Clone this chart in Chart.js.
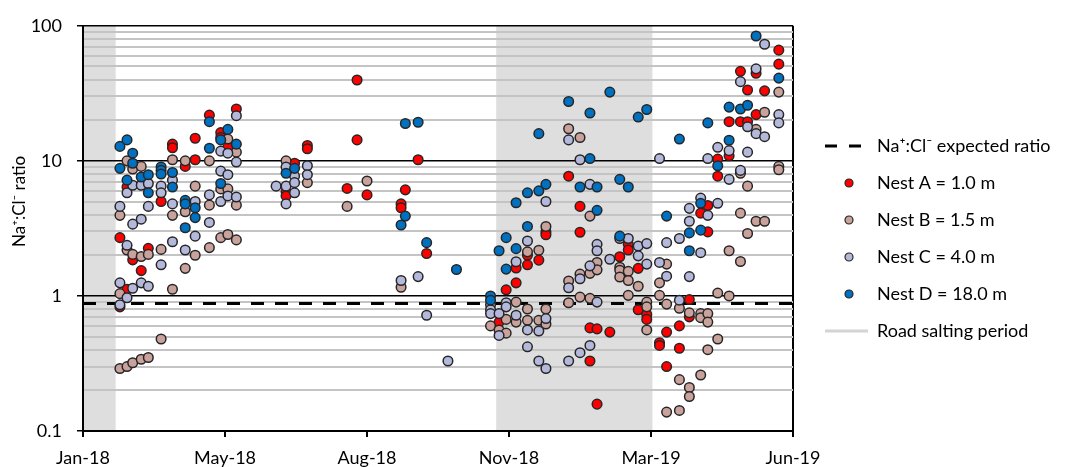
<!DOCTYPE html>
<html>
<head>
<meta charset="utf-8">
<script src="https://cdn.jsdelivr.net/npm/chart.js@4.4.1/dist/chart.umd.min.js"></script>
<style>
  html, body { margin: 0; padding: 0; background: #fff; }
  #wrap { width: 1069px; height: 467px; }
</style>
</head>
<body>
<div id="wrap"><canvas id="ratioChart"></canvas></div>
<script>
// axis setup
const X_TICK_DATES = ['2018-01-29', '2018-05-09', '2018-08-17', '2018-11-25', '2019-03-05', '2019-06-13'];
const X_TICK_LABELS = ['Jan-18', 'May-18', 'Aug-18', 'Nov-18', 'Mar-19', 'Jun-19'];
const Y_LABELED = [0.1, 1, 10, 100];
const Y_GRID = [0.1, 0.2, 0.3, 0.4, 0.5, 0.6, 0.7, 0.8, 0.9,
                1, 2, 3, 4, 5, 6, 7, 8, 9,
                10, 20, 30, 40, 50, 60, 70, 80, 90, 100];
const Y_TITLE = 'Na\u207A:Cl\u207B ratio';

const EXPECTED_RATIO = 0.88;
const SALTING_PERIODS = [['2017-11-15', '2018-02-21'], ['2018-11-16', '2019-03-06']];

// [sample date, Na:Cl ratio]
const nestA = [
  ['2018-02-24', 2.7], ['2018-02-24', 0.83], ['2018-03-01', 6.4], ['2018-03-01', 1.12],
  ['2018-03-05', 1.85], ['2018-03-11', 1.54], ['2018-03-16', 2.25], ['2018-03-25', 5.0],
  ['2018-04-02', 13.3], ['2018-04-02', 12.5], ['2018-04-11', 9.1], ['2018-04-18', 14.7],
  ['2018-04-18', 10.2], ['2018-04-28', 21.8], ['2018-05-06', 16.2], ['2018-05-06', 14.9],
  ['2018-05-11', 12.6], ['2018-05-17', 24.2], ['2018-06-21', 5.9], ['2018-06-21', 5.5],
  ['2018-06-27', 9.6], ['2018-07-06', 13.0], ['2018-07-06', 12.3], ['2018-08-03', 6.25],
  ['2018-08-10', 39.7], ['2018-08-10', 14.3], ['2018-08-17', 5.6], ['2018-09-10', 4.8],
  ['2018-09-10', 4.5], ['2018-09-13', 6.1], ['2018-09-22', 10.2], ['2018-09-28', 2.06],
  ['2018-11-18', 0.64], ['2018-11-23', 1.11], ['2018-11-30', 1.61], ['2018-11-30', 1.25],
  ['2018-12-08', 2.0], ['2018-12-08', 1.7], ['2018-12-16', 1.84], ['2018-12-21', 2.98],
  ['2018-12-21', 2.84], ['2019-01-06', 7.7], ['2019-01-14', 4.6], ['2019-01-14', 2.96],
  ['2019-01-21', 0.58], ['2019-01-21', 0.33], ['2019-01-26', 0.57], ['2019-01-26', 0.158],
  ['2019-02-04', 0.54], ['2019-02-11', 1.95], ['2019-02-17', 2.41], ['2019-02-17', 2.19],
  ['2019-02-24', 1.6], ['2019-02-24', 0.79], ['2019-03-02', 0.73], ['2019-03-02', 0.67],
  ['2019-03-11', 0.45], ['2019-03-11', 0.43], ['2019-03-16', 0.54], ['2019-03-16', 0.3],
  ['2019-03-25', 0.6], ['2019-03-25', 0.41], ['2019-04-01', 0.94], ['2019-04-01', 0.7],
  ['2019-04-09', 4.1], ['2019-04-14', 4.67], ['2019-04-14', 2.98], ['2019-04-21', 10.3],
  ['2019-04-21', 7.7], ['2019-04-29', 19.5], ['2019-04-29', 10.9], ['2019-05-07', 46],
  ['2019-05-07', 19.5], ['2019-05-12', 33.5], ['2019-05-12', 19.5], ['2019-05-18', 44.5],
  ['2019-05-18', 22], ['2019-05-24', 33], ['2019-06-03', 66], ['2019-06-03', 52]
];
const nestB = [
  ['2018-02-24', 3.95], ['2018-02-24', 1.04], ['2018-02-24', 0.29], ['2018-03-01', 10.0],
  ['2018-03-01', 2.19], ['2018-03-01', 0.3], ['2018-03-05', 8.7], ['2018-03-05', 2.03],
  ['2018-03-05', 0.32], ['2018-03-11', 9.1], ['2018-03-11', 1.96], ['2018-03-11', 0.34],
  ['2018-03-16', 2.03], ['2018-03-16', 0.35], ['2018-03-25', 2.21], ['2018-03-25', 0.48],
  ['2018-04-02', 10.2], ['2018-04-02', 3.95], ['2018-04-02', 1.12], ['2018-04-11', 10.0],
  ['2018-04-11', 4.2], ['2018-04-11', 1.6], ['2018-04-18', 6.5], ['2018-04-18', 2.0],
  ['2018-04-28', 10.0], ['2018-04-28', 4.7], ['2018-04-28', 2.28], ['2018-05-06', 6.2],
  ['2018-05-06', 2.7], ['2018-05-11', 14.5], ['2018-05-11', 6.2], ['2018-05-11', 2.85],
  ['2018-05-17', 11.6], ['2018-05-17', 4.7], ['2018-05-17', 2.6], ['2018-06-21', 10.0],
  ['2018-07-06', 6.9], ['2018-08-03', 4.6], ['2018-08-17', 7.1], ['2018-09-10', 1.16],
  ['2018-11-12', 0.6], ['2018-11-18', 0.56], ['2018-11-23', 0.67], ['2018-11-23', 0.53],
  ['2018-11-30', 0.9], ['2018-11-30', 0.64], ['2018-12-08', 2.12], ['2018-12-08', 0.8],
  ['2018-12-08', 0.66], ['2018-12-16', 2.18], ['2018-12-16', 0.66], ['2018-12-21', 3.27],
  ['2018-12-21', 0.8], ['2018-12-21', 0.62], ['2019-01-06', 17.3], ['2019-01-06', 1.29],
  ['2019-01-06', 0.89], ['2019-01-14', 14.9], ['2019-01-14', 1.45], ['2019-01-14', 0.98],
  ['2019-01-21', 3.9], ['2019-01-21', 1.47], ['2019-01-21', 0.96], ['2019-01-26', 1.77],
  ['2019-01-26', 1.56], ['2019-02-11', 1.63], ['2019-02-11', 1.55], ['2019-02-11', 1.38],
  ['2019-02-17', 1.52], ['2019-02-17', 1.3], ['2019-02-17', 1.01], ['2019-02-24', 1.18],
  ['2019-03-02', 0.9], ['2019-03-02', 0.83], ['2019-03-02', 0.56], ['2019-03-11', 1.25],
  ['2019-03-11', 1.01], ['2019-03-16', 1.72], ['2019-03-16', 0.87], ['2019-03-16', 0.138],
  ['2019-03-25', 0.81], ['2019-03-25', 0.24], ['2019-03-25', 0.142], ['2019-04-01', 0.75],
  ['2019-04-01', 0.21], ['2019-04-01', 0.18], ['2019-04-09', 0.74], ['2019-04-09', 0.69],
  ['2019-04-09', 0.26], ['2019-04-14', 0.74], ['2019-04-14', 0.64], ['2019-04-14', 0.4],
  ['2019-04-21', 1.05], ['2019-04-21', 0.48], ['2019-04-29', 2.16], ['2019-04-29', 1.0],
  ['2019-05-07', 8.1], ['2019-05-07', 4.1], ['2019-05-07', 1.8], ['2019-05-12', 6.5],
  ['2019-05-12', 2.9], ['2019-05-18', 17.1], ['2019-05-18', 3.57], ['2019-05-24', 22.9],
  ['2019-05-24', 3.57], ['2019-06-03', 32.3], ['2019-06-03', 9.1], ['2019-06-03', 8.6]
];
const nestC = [
  ['2018-02-24', 4.6], ['2018-02-24', 1.25], ['2018-02-24', 0.86], ['2018-03-01', 5.8],
  ['2018-03-01', 2.37], ['2018-03-01', 0.97], ['2018-03-05', 6.6], ['2018-03-05', 3.4],
  ['2018-03-05', 1.14], ['2018-03-11', 6.6], ['2018-03-11', 3.7], ['2018-03-11', 1.25],
  ['2018-03-16', 6.8], ['2018-03-16', 4.6], ['2018-03-16', 1.18], ['2018-03-25', 6.5],
  ['2018-03-25', 5.8], ['2018-03-25', 1.7], ['2018-04-02', 7.2], ['2018-04-02', 4.8],
  ['2018-04-02', 2.52], ['2018-04-11', 2.19], ['2018-04-18', 5.0], ['2018-04-18', 2.77],
  ['2018-04-28', 5.6], ['2018-04-28', 3.5], ['2018-05-06', 11.8], ['2018-05-06', 8.4],
  ['2018-05-06', 5.0], ['2018-05-11', 11.4], ['2018-05-11', 7.9], ['2018-05-11', 5.5],
  ['2018-05-17', 21.6], ['2018-05-17', 9.8], ['2018-05-17', 5.4], ['2018-06-14', 6.5],
  ['2018-06-21', 9.0], ['2018-06-21', 6.5], ['2018-06-21', 4.8], ['2018-06-27', 7.7],
  ['2018-06-27', 6.9], ['2018-06-27', 5.8], ['2018-07-06', 9.2], ['2018-07-06', 7.9],
  ['2018-09-10', 1.3], ['2018-09-22', 1.39], ['2018-09-28', 0.72], ['2018-10-13', 0.33],
  ['2018-11-12', 0.86], ['2018-11-12', 0.79], ['2018-11-12', 0.74], ['2018-11-18', 0.74],
  ['2018-11-18', 0.51], ['2018-11-23', 0.89], ['2018-11-23', 0.83], ['2018-11-30', 1.79],
  ['2018-11-30', 0.72], ['2018-12-08', 2.55], ['2018-12-08', 0.56], ['2018-12-08', 0.42],
  ['2018-12-16', 0.55], ['2018-12-16', 0.33], ['2018-12-21', 5.0], ['2018-12-21', 0.68],
  ['2018-12-21', 0.29], ['2019-01-06', 14.3], ['2019-01-06', 1.15], ['2019-01-06', 0.33],
  ['2019-01-14', 10.2], ['2019-01-14', 1.34], ['2019-01-14', 0.38], ['2019-01-21', 6.7],
  ['2019-01-21', 1.67], ['2019-01-21', 0.43], ['2019-01-26', 2.41], ['2019-01-26', 2.16],
  ['2019-01-26', 0.9], ['2019-02-04', 1.87], ['2019-02-11', 2.66], ['2019-02-17', 2.66],
  ['2019-02-24', 2.34], ['2019-02-24', 1.98], ['2019-03-02', 2.44], ['2019-03-02', 1.72],
  ['2019-03-11', 10.4], ['2019-03-11', 1.77], ['2019-03-16', 2.48], ['2019-03-16', 1.4],
  ['2019-03-25', 2.66], ['2019-03-25', 0.93], ['2019-04-01', 4.45], ['2019-04-01', 3.57],
  ['2019-04-01', 1.39], ['2019-04-09', 5.3], ['2019-04-09', 2.09], ['2019-04-14', 10.4],
  ['2019-04-14', 3.95], ['2019-04-21', 12.6], ['2019-04-21', 4.85], ['2019-04-29', 11.9],
  ['2019-04-29', 7.3], ['2019-05-07', 38.6], ['2019-05-07', 8.5], ['2019-05-12', 17.9],
  ['2019-05-12', 11.6], ['2019-05-18', 48], ['2019-05-18', 15.9], ['2019-05-24', 73],
  ['2019-05-24', 15.1], ['2019-06-03', 22], ['2019-06-03', 19.1]
];
const nestD = [
  ['2018-02-24', 12.8], ['2018-02-24', 8.8], ['2018-03-01', 14.3], ['2018-03-01', 7.2],
  ['2018-03-05', 11.4], ['2018-03-05', 9.6], ['2018-03-11', 7.6], ['2018-03-16', 7.9],
  ['2018-03-16', 5.8], ['2018-03-25', 9.0], ['2018-03-25', 8.5], ['2018-03-25', 8.0],
  ['2018-04-02', 8.2], ['2018-04-02', 6.4], ['2018-04-11', 5.1], ['2018-04-11', 4.8],
  ['2018-04-11', 3.2], ['2018-04-18', 4.5], ['2018-04-18', 3.8], ['2018-04-28', 19.5],
  ['2018-04-28', 12.4], ['2018-05-06', 14.3], ['2018-05-06', 6.8], ['2018-05-11', 17.1],
  ['2018-05-17', 13.3], ['2018-06-21', 8.1], ['2018-06-27', 8.8], ['2018-09-10', 3.35],
  ['2018-09-13', 18.9], ['2018-09-13', 3.9], ['2018-09-22', 19.3], ['2018-09-28', 2.48],
  ['2018-10-19', 1.57], ['2018-11-12', 1.0], ['2018-11-12', 0.93], ['2018-11-18', 2.16],
  ['2018-11-23', 2.7], ['2018-11-23', 1.58], ['2018-11-30', 4.9], ['2018-11-30', 2.24],
  ['2018-12-08', 5.8], ['2018-12-08', 3.27], ['2018-12-16', 15.9], ['2018-12-16', 6.0],
  ['2018-12-21', 6.7], ['2019-01-06', 27.5], ['2019-01-14', 6.4], ['2019-01-21', 22.6],
  ['2019-01-21', 10.4], ['2019-01-26', 6.4], ['2019-01-26', 4.3], ['2019-02-04', 32.3],
  ['2019-02-11', 7.3], ['2019-02-11', 2.77], ['2019-02-17', 6.4], ['2019-02-24', 21.1],
  ['2019-03-02', 24.0], ['2019-03-16', 3.9], ['2019-03-25', 14.5], ['2019-04-01', 2.93],
  ['2019-04-01', 2.16], ['2019-04-09', 4.85], ['2019-04-09', 3.07], ['2019-04-14', 19.1],
  ['2019-04-21', 9.2], ['2019-04-29', 25], ['2019-04-29', 14.2], ['2019-05-07', 24.2],
  ['2019-05-12', 25.8], ['2019-05-18', 84], ['2019-06-03', 41]
];

const LEGEND_W = 276;
const LEGEND_SHIFT = -5;
const OUTLINE = '#262626';
const FONT = "Lato, 'DejaVu Sans', sans-serif";

Chart.defaults.font.family = FONT;
Chart.defaults.font.size = 18;
Chart.defaults.color = '#000';

function toPoints(rows) {
  return rows.map(r => ({ x: Date.parse(r[0]), y: r[1] }));
}

function nestDataset(label, rows, color, order) {
  return {
    label: label,
    data: toPoints(rows),
    backgroundColor: color,
    borderColor: OUTLINE,
    pointRadius: 4.8,
    pointBorderWidth: 1.5,
    pointHoverRadius: 4.8,
    order: order
  };
}

// little canvases used as legend symbols
function legendSymbol(draw) {
  const c = document.createElement('canvas');
  c.width = 56;
  c.height = 14;
  const g = c.getContext('2d');
  draw(g);
  return c;
}
function dotSymbol(color) {
  return legendSymbol(g => {
    g.beginPath();
    g.arc(37, 7, 4, 0, Math.PI * 2);
    g.fillStyle = color;
    g.fill();
    g.lineWidth = 1.2;
    g.strokeStyle = OUTLINE;
    g.stroke();
  });
}
const dashSymbol = legendSymbol(g => {
  g.strokeStyle = '#000';
  g.lineWidth = 3;
  g.setLineDash([12, 12]);
  g.beginPath();
  g.moveTo(13, 7);
  g.lineTo(50, 7);
  g.stroke();
});
const saltSymbol = legendSymbol(g => {
  g.strokeStyle = '#d4d4d4';
  g.lineWidth = 3;
  g.beginPath();
  g.moveTo(13, 7);
  g.lineTo(60, 7);
  g.stroke();
});

const saltingShade = {
  id: 'saltingShade',
  beforeDraw(chart) {
    const { ctx, chartArea: a, scales: { x } } = chart;
    ctx.save();
    ctx.fillStyle = '#dedede';
    SALTING_PERIODS.forEach(([s, e]) => {
      const x0 = Math.max(a.left, x.getPixelForValue(Date.parse(s)));
      const x1 = Math.min(a.right, x.getPixelForValue(Date.parse(e)));
      if (x1 > x0) ctx.fillRect(x0, a.top, x1 - x0, a.bottom - a.top);
    });
    ctx.restore();
  }
};

// y title sits a bit above the middle of the plot, like the original
const yTitle = {
  id: 'yTitle',
  afterDraw(chart) {
    const { ctx, chartArea: a } = chart;
    ctx.save();
    ctx.translate(20, (a.top + a.bottom) / 2 - 27);
    ctx.rotate(-Math.PI / 2);
    ctx.font = '17px ' + FONT;
    ctx.fillStyle = '#000';
    ctx.textAlign = 'center';
    ctx.textBaseline = 'middle';
    ctx.fillText(Y_TITLE, 0, 0);
    ctx.restore();
  }
};

// fixed legend width so the plot ends where the original does
const legendBox = {
  id: 'legendBox',
  beforeLayout(chart) {
    const lg = chart.legend;
    if (!lg || lg._fixedWidth) return;
    const fit = lg.fit.bind(lg);
    lg.fit = function () { fit(); this.width = LEGEND_W; };
    lg._fixedWidth = true;
  },
  afterLayout(chart) {
    const lg = chart.legend;
    if (!lg) return;
    lg.top += LEGEND_SHIFT;
    lg.bottom += LEGEND_SHIFT;
  }
};

const xMin = Date.parse(X_TICK_DATES[0]);
const xMax = Date.parse(X_TICK_DATES[X_TICK_DATES.length - 1]);

const ctx = document.getElementById('ratioChart').getContext('2d');
new Chart(ctx, {
  type: 'scatter',
  data: {
    datasets: [
      {
        label: 'Na\u207A:Cl\u207B expected ratio',
        type: 'line',
        data: [{ x: xMin, y: EXPECTED_RATIO }, { x: xMax, y: EXPECTED_RATIO }],
        borderColor: '#000',
        borderWidth: 3,
        borderDash: [13, 11],
        pointRadius: 0,
        showLine: true,
        order: 10
      },
      nestDataset('Nest A = 1.0 m', nestA, '#ff0000', 4),
      nestDataset('Nest B = 1.5 m', nestB, '#c9a29c', 3),
      nestDataset('Nest C = 4.0 m', nestC, '#b4b9dc', 2),
      nestDataset('Nest D = 18.0 m', nestD, '#0070c0', 1)
    ]
  },
  options: {
    responsive: true,
    maintainAspectRatio: false,
    animation: false,
    layout: { padding: { top: 20, right: 0, bottom: 0, left: 0 } },
    scales: {
      x: {
        type: 'linear',
        min: xMin,
        max: xMax,
        afterBuildTicks: s => { s.ticks = X_TICK_DATES.map(d => ({ value: Date.parse(d) })); },
        afterFit: s => { s.height = 36; },
        ticks: {
          autoSkip: false,
          maxRotation: 0,
          padding: 10,
          callback: (v, i) => X_TICK_LABELS[i]
        },
        grid: {
          color: c => c.index === X_TICK_DATES.length - 1 ? '#000' : 'rgba(0,0,0,0)',
          lineWidth: 2,
          tickLength: 6,
          tickColor: '#000'
        },
        border: { color: '#000', width: 2 }
      },
      y: {
        type: 'logarithmic',
        min: 0.1,
        max: 100,
        afterBuildTicks: s => { s.ticks = Y_GRID.map(v => ({ value: v })); },
        afterFit: s => { s.width = 83; },
        ticks: {
          autoSkip: false,
          padding: 15,
          callback: v => Y_LABELED.includes(v) ? String(v) : ''
        },
        grid: {
          color: c => {
            const v = c.tick.value;
            if (v === 0.1) return 'rgba(0,0,0,0)';
            return Y_LABELED.includes(v) ? '#000' : '#c4c4c4';
          },
          lineWidth: c => Y_LABELED.includes(c.tick.value) ? 1.5 : 2,
          tickLength: 6,
          tickColor: c => Y_LABELED.includes(c.tick.value) ? '#000' : 'rgba(0,0,0,0)'
        },
        border: { color: '#000', width: 2 }
      }
    },
    plugins: {
      tooltip: { enabled: false },
      legend: {
        position: 'right',
        align: 'center',
        labels: {
          usePointStyle: true,
          pointStyleWidth: 56,
          boxHeight: 14,
          padding: 19,
          color: '#000',
          font: { size: 18 },
          generateLabels: chart => {
            const ds = chart.data.datasets;
            const symbols = [dashSymbol, dotSymbol(ds[1].backgroundColor), dotSymbol(ds[2].backgroundColor),
                             dotSymbol(ds[3].backgroundColor), dotSymbol(ds[4].backgroundColor)];
            const items = ds.map((d, i) => ({
              text: d.label, pointStyle: symbols[i], datasetIndex: i,
              lineWidth: 0, strokeStyle: 'rgba(0,0,0,0)', fillStyle: 'rgba(0,0,0,0)', hidden: false
            }));
            items.push({
              text: 'Road salting period', pointStyle: saltSymbol,
              lineWidth: 0, strokeStyle: 'rgba(0,0,0,0)', fillStyle: 'rgba(0,0,0,0)', hidden: false
            });
            return items;
          }
        }
      }
    }
  },
  plugins: [saltingShade, yTitle, legendBox]
});
</script>
</body>
</html>
